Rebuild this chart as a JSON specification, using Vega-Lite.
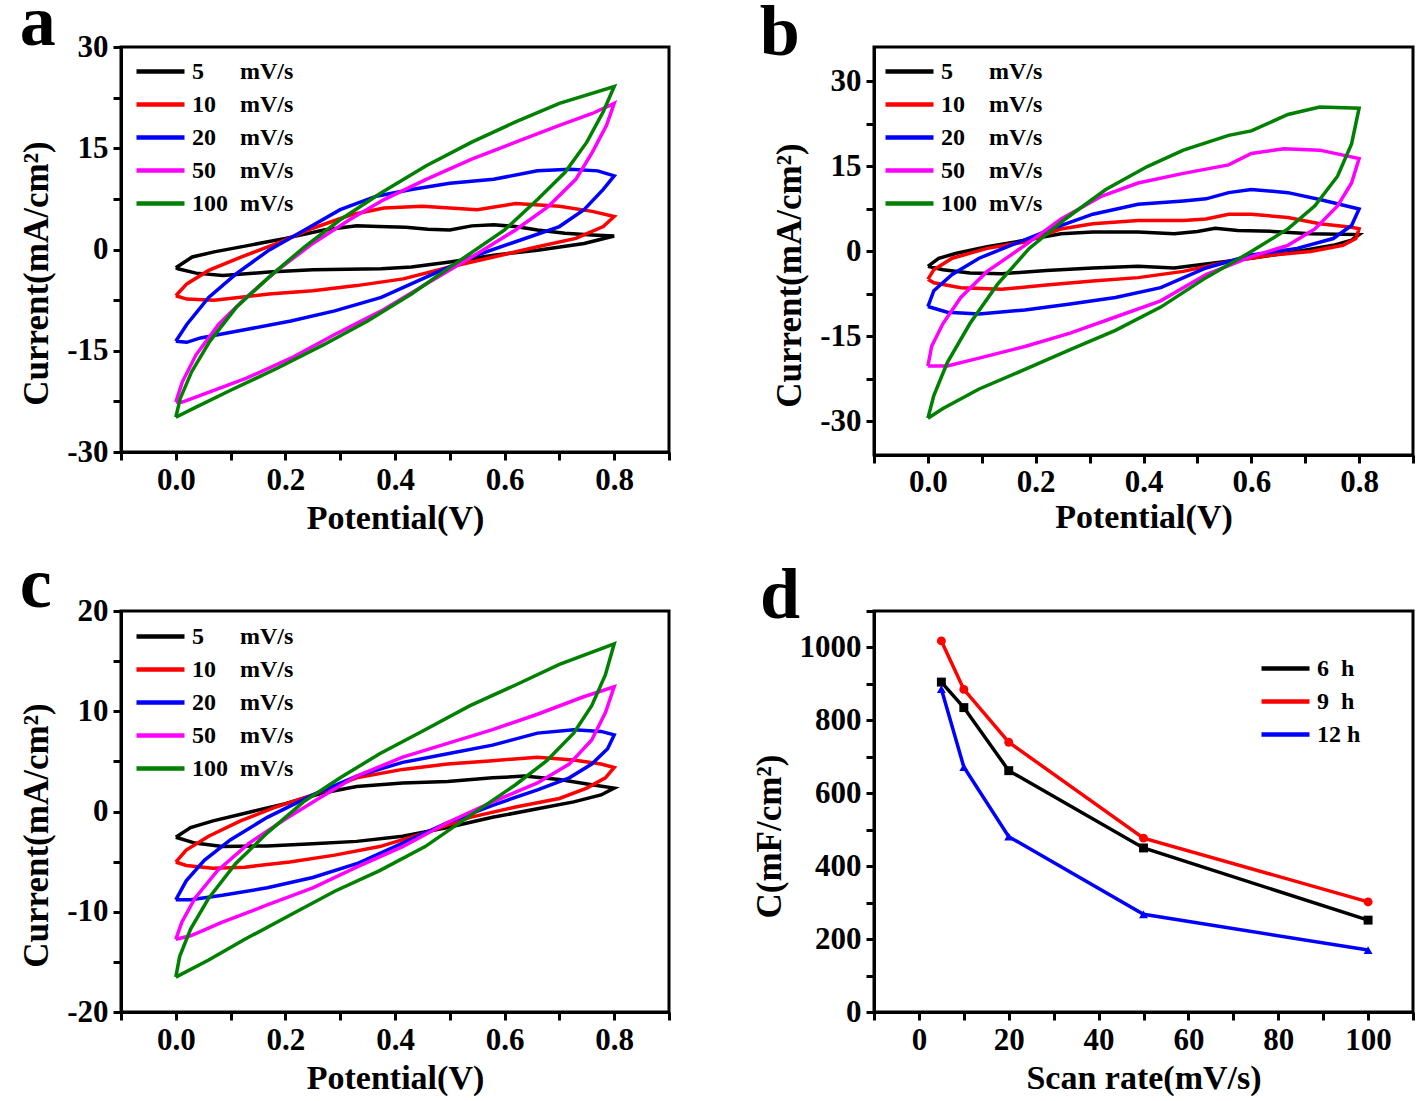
{
 "$schema": "https://vega.github.io/schema/vega-lite/v6.json",
 "padding": {"left": 18, "top": -15, "right": 0, "bottom": 0},
 "background": "white",
 "columns": 2,
 "spacing": {"row": 10, "column": 78},
 "resolve": {"scale": {"color": "independent", "shape": "independent", "fill": "independent"}, "legend": {"color": "independent", "shape": "independent", "fill": "independent"}},
 "datasets": {
  "cv": [
   {"p":"a","r":5,"o":0,"v":0,"i":-2.7},{"p":"a","r":5,"o":1,"v":0.03,"i":-1.1},{"p":"a","r":5,"o":2,"v":0.07,"i":-0.35},{"p":"a","r":5,"o":3,"v":0.136,"i":0.65},{"p":"a","r":5,"o":4,"v":0.2,"i":1.65},{"p":"a","r":5,"o":5,"v":0.27,"i":2.9},{"p":"a","r":5,"o":6,"v":0.33,"i":3.5},{"p":"a","r":5,"o":7,"v":0.37,"i":3.4},{"p":"a","r":5,"o":8,"v":0.42,"i":3.3},{"p":"a","r":5,"o":9,"v":0.46,"i":3.0},{"p":"a","r":5,"o":10,"v":0.5,"i":2.9},{"p":"a","r":5,"o":11,"v":0.54,"i":3.5},{"p":"a","r":5,"o":12,"v":0.58,"i":3.65},{"p":"a","r":5,"o":13,"v":0.62,"i":3.4},{"p":"a","r":5,"o":14,"v":0.66,"i":2.9},{"p":"a","r":5,"o":15,"v":0.71,"i":2.4},{"p":"a","r":5,"o":16,"v":0.76,"i":2.15},{"p":"a","r":5,"o":17,"v":0.8,"i":2.0},{"p":"a","r":5,"o":18,"v":0.745,"i":0.9},{"p":"a","r":5,"o":19,"v":0.66,"i":-0.1},{"p":"a","r":5,"o":20,"v":0.58,"i":-0.85},{"p":"a","r":5,"o":21,"v":0.5,"i":-1.85},{"p":"a","r":5,"o":22,"v":0.43,"i":-2.6},{"p":"a","r":5,"o":23,"v":0.375,"i":-2.85},{"p":"a","r":5,"o":24,"v":0.25,"i":-3.0},{"p":"a","r":5,"o":25,"v":0.17,"i":-3.35},{"p":"a","r":5,"o":26,"v":0.086,"i":-3.85},{"p":"a","r":5,"o":27,"v":0.037,"i":-3.5},{"p":"a","r":5,"o":28,"v":0.004,"i":-2.85},{"p":"a","r":5,"o":29,"v":0,"i":-2.7},
   {"p":"a","r":10,"o":0,"v":0,"i":-6.85},{"p":"a","r":10,"o":1,"v":0.02,"i":-5.1},{"p":"a","r":10,"o":2,"v":0.06,"i":-3.1},{"p":"a","r":10,"o":3,"v":0.12,"i":-1.1},{"p":"a","r":10,"o":4,"v":0.185,"i":0.9},{"p":"a","r":10,"o":5,"v":0.25,"i":3.15},{"p":"a","r":10,"o":6,"v":0.32,"i":5.15},{"p":"a","r":10,"o":7,"v":0.38,"i":6.15},{"p":"a","r":10,"o":8,"v":0.45,"i":6.4},{"p":"a","r":10,"o":9,"v":0.5,"i":6.15},{"p":"a","r":10,"o":10,"v":0.55,"i":5.9},{"p":"a","r":10,"o":11,"v":0.62,"i":6.8},{"p":"a","r":10,"o":12,"v":0.7,"i":6.4},{"p":"a","r":10,"o":13,"v":0.76,"i":5.65},{"p":"a","r":10,"o":14,"v":0.8,"i":4.9},{"p":"a","r":10,"o":15,"v":0.78,"i":3.4},{"p":"a","r":10,"o":16,"v":0.73,"i":1.65},{"p":"a","r":10,"o":17,"v":0.66,"i":0.4},{"p":"a","r":10,"o":18,"v":0.58,"i":-1.1},{"p":"a","r":10,"o":19,"v":0.5,"i":-2.6},{"p":"a","r":10,"o":20,"v":0.415,"i":-4.35},{"p":"a","r":10,"o":21,"v":0.33,"i":-5.35},{"p":"a","r":10,"o":22,"v":0.25,"i":-6.1},{"p":"a","r":10,"o":23,"v":0.17,"i":-6.6},{"p":"a","r":10,"o":24,"v":0.07,"i":-7.5},{"p":"a","r":10,"o":25,"v":0.02,"i":-7.35},{"p":"a","r":10,"o":26,"v":0,"i":-6.85},
   {"p":"a","r":20,"o":0,"v":0,"i":-13.6},{"p":"a","r":20,"o":1,"v":0.02,"i":-11.1},{"p":"a","r":20,"o":2,"v":0.06,"i":-7.1},{"p":"a","r":20,"o":3,"v":0.11,"i":-3.6},{"p":"a","r":20,"o":4,"v":0.17,"i":-0.1},{"p":"a","r":20,"o":5,"v":0.235,"i":2.9},{"p":"a","r":20,"o":6,"v":0.3,"i":5.9},{"p":"a","r":20,"o":7,"v":0.366,"i":7.9},{"p":"a","r":20,"o":8,"v":0.43,"i":8.9},{"p":"a","r":20,"o":9,"v":0.5,"i":9.8},{"p":"a","r":20,"o":10,"v":0.58,"i":10.4},{"p":"a","r":20,"o":11,"v":0.66,"i":11.65},{"p":"a","r":20,"o":12,"v":0.72,"i":11.9},{"p":"a","r":20,"o":13,"v":0.77,"i":11.65},{"p":"a","r":20,"o":14,"v":0.8,"i":10.9},{"p":"a","r":20,"o":15,"v":0.78,"i":8.9},{"p":"a","r":20,"o":16,"v":0.745,"i":5.9},{"p":"a","r":20,"o":17,"v":0.7,"i":3.4},{"p":"a","r":20,"o":18,"v":0.62,"i":1.15},{"p":"a","r":20,"o":19,"v":0.54,"i":-1.1},{"p":"a","r":20,"o":20,"v":0.457,"i":-4.1},{"p":"a","r":20,"o":21,"v":0.375,"i":-7.1},{"p":"a","r":20,"o":22,"v":0.29,"i":-9.1},{"p":"a","r":20,"o":23,"v":0.21,"i":-10.6},{"p":"a","r":20,"o":24,"v":0.128,"i":-11.85},{"p":"a","r":20,"o":25,"v":0.045,"i":-13.1},{"p":"a","r":20,"o":26,"v":0.02,"i":-13.75},{"p":"a","r":20,"o":27,"v":0,"i":-13.6},
   {"p":"a","r":50,"o":0,"v":0,"i":-22.6},{"p":"a","r":50,"o":1,"v":0.012,"i":-19.6},{"p":"a","r":50,"o":2,"v":0.037,"i":-15.6},{"p":"a","r":50,"o":3,"v":0.078,"i":-11.1},{"p":"a","r":50,"o":4,"v":0.128,"i":-7.1},{"p":"a","r":50,"o":5,"v":0.185,"i":-3.1},{"p":"a","r":50,"o":6,"v":0.25,"i":0.9},{"p":"a","r":50,"o":7,"v":0.317,"i":4.4},{"p":"a","r":50,"o":8,"v":0.38,"i":7.4},{"p":"a","r":50,"o":9,"v":0.457,"i":10.4},{"p":"a","r":50,"o":10,"v":0.54,"i":13.4},{"p":"a","r":50,"o":11,"v":0.62,"i":15.9},{"p":"a","r":50,"o":12,"v":0.7,"i":18.4},{"p":"a","r":50,"o":13,"v":0.76,"i":20.15},{"p":"a","r":50,"o":14,"v":0.8,"i":21.65},{"p":"a","r":50,"o":15,"v":0.786,"i":18.4},{"p":"a","r":50,"o":16,"v":0.76,"i":14.4},{"p":"a","r":50,"o":17,"v":0.73,"i":10.4},{"p":"a","r":50,"o":18,"v":0.68,"i":6.4},{"p":"a","r":50,"o":19,"v":0.62,"i":2.9},{"p":"a","r":50,"o":20,"v":0.54,"i":-1.1},{"p":"a","r":50,"o":21,"v":0.457,"i":-5.1},{"p":"a","r":50,"o":22,"v":0.375,"i":-9.1},{"p":"a","r":50,"o":23,"v":0.29,"i":-12.6},{"p":"a","r":50,"o":24,"v":0.21,"i":-16.1},{"p":"a","r":50,"o":25,"v":0.128,"i":-19.1},{"p":"a","r":50,"o":26,"v":0.045,"i":-21.6},{"p":"a","r":50,"o":27,"v":0.012,"i":-22.6},{"p":"a","r":50,"o":28,"v":0,"i":-22.6},
   {"p":"a","r":100,"o":0,"v":0,"i":-24.85},{"p":"a","r":100,"o":1,"v":0.008,"i":-22.1},{"p":"a","r":100,"o":2,"v":0.029,"i":-18.1},{"p":"a","r":100,"o":3,"v":0.062,"i":-13.6},{"p":"a","r":100,"o":4,"v":0.11,"i":-8.6},{"p":"a","r":100,"o":5,"v":0.17,"i":-4.1},{"p":"a","r":100,"o":6,"v":0.235,"i":0.4},{"p":"a","r":100,"o":7,"v":0.3,"i":4.4},{"p":"a","r":100,"o":8,"v":0.375,"i":8.4},{"p":"a","r":100,"o":9,"v":0.457,"i":12.4},{"p":"a","r":100,"o":10,"v":0.54,"i":15.9},{"p":"a","r":100,"o":11,"v":0.62,"i":18.9},{"p":"a","r":100,"o":12,"v":0.7,"i":21.65},{"p":"a","r":100,"o":13,"v":0.8,"i":24.15},{"p":"a","r":100,"o":14,"v":0.78,"i":20.4},{"p":"a","r":100,"o":15,"v":0.75,"i":15.9},{"p":"a","r":100,"o":16,"v":0.71,"i":11.4},{"p":"a","r":100,"o":17,"v":0.66,"i":7.4},{"p":"a","r":100,"o":18,"v":0.6,"i":2.9},{"p":"a","r":100,"o":19,"v":0.51,"i":-2.1},{"p":"a","r":100,"o":20,"v":0.43,"i":-6.6},{"p":"a","r":100,"o":21,"v":0.35,"i":-10.6},{"p":"a","r":100,"o":22,"v":0.27,"i":-14.1},{"p":"a","r":100,"o":23,"v":0.185,"i":-17.6},{"p":"a","r":100,"o":24,"v":0.1,"i":-20.85},{"p":"a","r":100,"o":25,"v":0.037,"i":-23.35},{"p":"a","r":100,"o":26,"v":0,"i":-24.85},
   {"p":"b","r":5,"o":0,"v":0,"i":-2.7},{"p":"b","r":5,"o":1,"v":0.02,"i":-1.3},{"p":"b","r":5,"o":2,"v":0.053,"i":-0.4},{"p":"b","r":5,"o":3,"v":0.11,"i":0.75},{"p":"b","r":5,"o":4,"v":0.18,"i":1.9},{"p":"b","r":5,"o":5,"v":0.247,"i":3.05},{"p":"b","r":5,"o":6,"v":0.306,"i":3.35},{"p":"b","r":5,"o":7,"v":0.39,"i":3.35},{"p":"b","r":5,"o":8,"v":0.457,"i":3.05},{"p":"b","r":5,"o":9,"v":0.5,"i":3.46},{"p":"b","r":5,"o":10,"v":0.533,"i":4.0},{"p":"b","r":5,"o":11,"v":0.575,"i":3.6},{"p":"b","r":5,"o":12,"v":0.64,"i":3.46},{"p":"b","r":5,"o":13,"v":0.71,"i":3.05},{"p":"b","r":5,"o":14,"v":0.8,"i":2.9},{"p":"b","r":5,"o":15,"v":0.786,"i":1.9},{"p":"b","r":5,"o":16,"v":0.752,"i":1.0},{"p":"b","r":5,"o":17,"v":0.685,"i":-0.1},{"p":"b","r":5,"o":18,"v":0.6,"i":-1.27},{"p":"b","r":5,"o":19,"v":0.516,"i":-2.3},{"p":"b","r":5,"o":20,"v":0.457,"i":-3.0},{"p":"b","r":5,"o":21,"v":0.39,"i":-2.7},{"p":"b","r":5,"o":22,"v":0.306,"i":-3.0},{"p":"b","r":5,"o":23,"v":0.22,"i":-3.46},{"p":"b","r":5,"o":24,"v":0.137,"i":-4.0},{"p":"b","r":5,"o":25,"v":0.078,"i":-3.87},{"p":"b","r":5,"o":26,"v":0.028,"i":-3.3},{"p":"b","r":5,"o":27,"v":0,"i":-2.7},
   {"p":"b","r":10,"o":0,"v":0,"i":-5.0},{"p":"b","r":10,"o":1,"v":0.011,"i":-3.3},{"p":"b","r":10,"o":2,"v":0.045,"i":-1.27},{"p":"b","r":10,"o":3,"v":0.11,"i":0.46},{"p":"b","r":10,"o":4,"v":0.18,"i":1.6},{"p":"b","r":10,"o":5,"v":0.247,"i":3.9},{"p":"b","r":10,"o":6,"v":0.306,"i":4.8},{"p":"b","r":10,"o":7,"v":0.39,"i":5.37},{"p":"b","r":10,"o":8,"v":0.474,"i":5.37},{"p":"b","r":10,"o":9,"v":0.516,"i":5.65},{"p":"b","r":10,"o":10,"v":0.558,"i":6.5},{"p":"b","r":10,"o":11,"v":0.6,"i":6.5},{"p":"b","r":10,"o":12,"v":0.668,"i":5.9},{"p":"b","r":10,"o":13,"v":0.727,"i":4.8},{"p":"b","r":10,"o":14,"v":0.786,"i":4.2},{"p":"b","r":10,"o":15,"v":0.8,"i":3.9},{"p":"b","r":10,"o":16,"v":0.794,"i":2.2},{"p":"b","r":10,"o":17,"v":0.77,"i":1.0},{"p":"b","r":10,"o":18,"v":0.71,"i":-0.1},{"p":"b","r":10,"o":19,"v":0.64,"i":-0.7},{"p":"b","r":10,"o":20,"v":0.558,"i":-1.85},{"p":"b","r":10,"o":21,"v":0.474,"i":-3.6},{"p":"b","r":10,"o":22,"v":0.39,"i":-4.7},{"p":"b","r":10,"o":23,"v":0.306,"i":-5.3},{"p":"b","r":10,"o":24,"v":0.22,"i":-6.0},{"p":"b","r":10,"o":25,"v":0.137,"i":-6.75},{"p":"b","r":10,"o":26,"v":0.061,"i":-6.5},{"p":"b","r":10,"o":27,"v":0.011,"i":-5.6},{"p":"b","r":10,"o":28,"v":0,"i":-5.0},
   {"p":"b","r":20,"o":0,"v":0,"i":-9.8},{"p":"b","r":20,"o":1,"v":0.011,"i":-7.0},{"p":"b","r":20,"o":2,"v":0.045,"i":-4.15},{"p":"b","r":20,"o":3,"v":0.095,"i":-1.27},{"p":"b","r":20,"o":4,"v":0.163,"i":1.33},{"p":"b","r":20,"o":5,"v":0.23,"i":3.9},{"p":"b","r":20,"o":6,"v":0.306,"i":6.5},{"p":"b","r":20,"o":7,"v":0.39,"i":8.25},{"p":"b","r":20,"o":8,"v":0.474,"i":8.83},{"p":"b","r":20,"o":9,"v":0.516,"i":9.2},{"p":"b","r":20,"o":10,"v":0.558,"i":10.3},{"p":"b","r":20,"o":11,"v":0.6,"i":10.85},{"p":"b","r":20,"o":12,"v":0.668,"i":10.3},{"p":"b","r":20,"o":13,"v":0.727,"i":9.1},{"p":"b","r":20,"o":14,"v":0.8,"i":7.4},{"p":"b","r":20,"o":15,"v":0.786,"i":4.5},{"p":"b","r":20,"o":16,"v":0.752,"i":2.2},{"p":"b","r":20,"o":17,"v":0.685,"i":0.46},{"p":"b","r":20,"o":18,"v":0.6,"i":-0.7},{"p":"b","r":20,"o":19,"v":0.516,"i":-3.0},{"p":"b","r":20,"o":20,"v":0.432,"i":-6.46},{"p":"b","r":20,"o":21,"v":0.348,"i":-8.2},{"p":"b","r":20,"o":22,"v":0.264,"i":-9.35},{"p":"b","r":20,"o":23,"v":0.18,"i":-10.4},{"p":"b","r":20,"o":24,"v":0.095,"i":-11.1},{"p":"b","r":20,"o":25,"v":0.036,"i":-10.8},{"p":"b","r":20,"o":26,"v":0,"i":-9.8},
   {"p":"b","r":50,"o":0,"v":0,"i":-20.3},{"p":"b","r":50,"o":1,"v":0.007,"i":-16.8},{"p":"b","r":50,"o":2,"v":0.028,"i":-12.8},{"p":"b","r":50,"o":3,"v":0.061,"i":-8.2},{"p":"b","r":50,"o":4,"v":0.11,"i":-3.6},{"p":"b","r":50,"o":5,"v":0.18,"i":1.0},{"p":"b","r":50,"o":6,"v":0.247,"i":5.65},{"p":"b","r":50,"o":7,"v":0.323,"i":9.7},{"p":"b","r":50,"o":8,"v":0.39,"i":12.0},{"p":"b","r":50,"o":9,"v":0.474,"i":13.7},{"p":"b","r":50,"o":10,"v":0.558,"i":15.2},{"p":"b","r":50,"o":11,"v":0.6,"i":17.2},{"p":"b","r":50,"o":12,"v":0.66,"i":18.06},{"p":"b","r":50,"o":13,"v":0.727,"i":17.8},{"p":"b","r":50,"o":14,"v":0.8,"i":16.3},{"p":"b","r":50,"o":15,"v":0.786,"i":12.0},{"p":"b","r":50,"o":16,"v":0.76,"i":7.96},{"p":"b","r":50,"o":17,"v":0.718,"i":3.9},{"p":"b","r":50,"o":18,"v":0.668,"i":1.0},{"p":"b","r":50,"o":19,"v":0.6,"i":-1.0},{"p":"b","r":50,"o":20,"v":0.516,"i":-4.15},{"p":"b","r":50,"o":21,"v":0.432,"i":-8.8},{"p":"b","r":50,"o":22,"v":0.348,"i":-11.65},{"p":"b","r":50,"o":23,"v":0.264,"i":-14.5},{"p":"b","r":50,"o":24,"v":0.18,"i":-16.85},{"p":"b","r":50,"o":25,"v":0.095,"i":-18.9},{"p":"b","r":50,"o":26,"v":0.036,"i":-20.3},{"p":"b","r":50,"o":27,"v":0,"i":-20.3},
   {"p":"b","r":100,"o":0,"v":0,"i":-29.5},{"p":"b","r":100,"o":1,"v":0.011,"i":-25.5},{"p":"b","r":100,"o":2,"v":0.036,"i":-19.7},{"p":"b","r":100,"o":3,"v":0.078,"i":-12.8},{"p":"b","r":100,"o":4,"v":0.129,"i":-5.9},{"p":"b","r":100,"o":5,"v":0.188,"i":0.46},{"p":"b","r":100,"o":6,"v":0.255,"i":5.65},{"p":"b","r":100,"o":7,"v":0.33,"i":10.85},{"p":"b","r":100,"o":8,"v":0.407,"i":14.9},{"p":"b","r":100,"o":9,"v":0.474,"i":17.8},{"p":"b","r":100,"o":10,"v":0.558,"i":20.4},{"p":"b","r":100,"o":11,"v":0.6,"i":21.2},{"p":"b","r":100,"o":12,"v":0.668,"i":24.1},{"p":"b","r":100,"o":13,"v":0.727,"i":25.4},{"p":"b","r":100,"o":14,"v":0.8,"i":25.2},{"p":"b","r":100,"o":15,"v":0.786,"i":18.9},{"p":"b","r":100,"o":16,"v":0.76,"i":13.2},{"p":"b","r":100,"o":17,"v":0.718,"i":7.96},{"p":"b","r":100,"o":18,"v":0.668,"i":3.9},{"p":"b","r":100,"o":19,"v":0.6,"i":-0.1},{"p":"b","r":100,"o":20,"v":0.516,"i":-4.7},{"p":"b","r":100,"o":21,"v":0.432,"i":-9.9},{"p":"b","r":100,"o":22,"v":0.348,"i":-14.0},{"p":"b","r":100,"o":23,"v":0.264,"i":-17.4},{"p":"b","r":100,"o":24,"v":0.18,"i":-20.9},{"p":"b","r":100,"o":25,"v":0.095,"i":-24.35},{"p":"b","r":100,"o":26,"v":0.028,"i":-27.8},{"p":"b","r":100,"o":27,"v":0,"i":-29.5},
   {"p":"c","r":5,"o":0,"v":0,"i":-2.57},{"p":"c","r":5,"o":1,"v":0.027,"i":-1.6},{"p":"c","r":5,"o":2,"v":0.068,"i":-0.93},{"p":"c","r":5,"o":3,"v":0.134,"i":-0.07},{"p":"c","r":5,"o":4,"v":0.2,"i":0.79},{"p":"c","r":5,"o":5,"v":0.266,"i":1.82},{"p":"c","r":5,"o":6,"v":0.33,"i":2.5},{"p":"c","r":5,"o":7,"v":0.414,"i":2.85},{"p":"c","r":5,"o":8,"v":0.496,"i":3.0},{"p":"c","r":5,"o":9,"v":0.578,"i":3.36},{"p":"c","r":5,"o":10,"v":0.636,"i":3.53},{"p":"c","r":5,"o":11,"v":0.7,"i":3.19},{"p":"c","r":5,"o":12,"v":0.759,"i":2.67},{"p":"c","r":5,"o":13,"v":0.8,"i":2.33},{"p":"c","r":5,"o":14,"v":0.776,"i":1.65},{"p":"c","r":5,"o":15,"v":0.726,"i":0.96},{"p":"c","r":5,"o":16,"v":0.66,"i":0.27},{"p":"c","r":5,"o":17,"v":0.578,"i":-0.58},{"p":"c","r":5,"o":18,"v":0.496,"i":-1.6},{"p":"c","r":5,"o":19,"v":0.414,"i":-2.47},{"p":"c","r":5,"o":20,"v":0.33,"i":-2.98},{"p":"c","r":5,"o":21,"v":0.25,"i":-3.22},{"p":"c","r":5,"o":22,"v":0.167,"i":-3.43},{"p":"c","r":5,"o":23,"v":0.085,"i":-3.5},{"p":"c","r":5,"o":24,"v":0.035,"i":-3.15},{"p":"c","r":5,"o":25,"v":0,"i":-2.57},
   {"p":"c","r":10,"o":0,"v":0,"i":-5.04},{"p":"c","r":10,"o":1,"v":0.019,"i":-3.84},{"p":"c","r":10,"o":2,"v":0.06,"i":-2.47},{"p":"c","r":10,"o":3,"v":0.118,"i":-0.93},{"p":"c","r":10,"o":4,"v":0.183,"i":0.45},{"p":"c","r":10,"o":5,"v":0.25,"i":1.65},{"p":"c","r":10,"o":6,"v":0.33,"i":3.36},{"p":"c","r":10,"o":7,"v":0.414,"i":4.2},{"p":"c","r":10,"o":8,"v":0.496,"i":4.73},{"p":"c","r":10,"o":9,"v":0.578,"i":5.07},{"p":"c","r":10,"o":10,"v":0.66,"i":5.42},{"p":"c","r":10,"o":11,"v":0.726,"i":5.14},{"p":"c","r":10,"o":12,"v":0.776,"i":4.73},{"p":"c","r":10,"o":13,"v":0.8,"i":4.39},{"p":"c","r":10,"o":14,"v":0.784,"i":3.36},{"p":"c","r":10,"o":15,"v":0.75,"i":2.33},{"p":"c","r":10,"o":16,"v":0.7,"i":1.3},{"p":"c","r":10,"o":17,"v":0.62,"i":0.45},{"p":"c","r":10,"o":18,"v":0.537,"i":-0.58},{"p":"c","r":10,"o":19,"v":0.455,"i":-2.13},{"p":"c","r":10,"o":20,"v":0.372,"i":-3.5},{"p":"c","r":10,"o":21,"v":0.29,"i":-4.35},{"p":"c","r":10,"o":22,"v":0.208,"i":-5.04},{"p":"c","r":10,"o":23,"v":0.126,"i":-5.55},{"p":"c","r":10,"o":24,"v":0.068,"i":-5.66},{"p":"c","r":10,"o":25,"v":0.019,"i":-5.38},{"p":"c","r":10,"o":26,"v":0,"i":-5.04},
   {"p":"c","r":20,"o":0,"v":0,"i":-8.81},{"p":"c","r":20,"o":1,"v":0.019,"i":-6.92},{"p":"c","r":20,"o":2,"v":0.052,"i":-4.87},{"p":"c","r":20,"o":3,"v":0.1,"i":-2.81},{"p":"c","r":20,"o":4,"v":0.167,"i":-0.58},{"p":"c","r":20,"o":5,"v":0.25,"i":1.65},{"p":"c","r":20,"o":6,"v":0.33,"i":3.53},{"p":"c","r":20,"o":7,"v":0.414,"i":4.9},{"p":"c","r":20,"o":8,"v":0.496,"i":5.76},{"p":"c","r":20,"o":9,"v":0.578,"i":6.62},{"p":"c","r":20,"o":10,"v":0.66,"i":7.82},{"p":"c","r":20,"o":11,"v":0.726,"i":8.16},{"p":"c","r":20,"o":12,"v":0.776,"i":7.99},{"p":"c","r":20,"o":13,"v":0.8,"i":7.64},{"p":"c","r":20,"o":14,"v":0.788,"i":6.27},{"p":"c","r":20,"o":15,"v":0.759,"i":4.73},{"p":"c","r":20,"o":16,"v":0.718,"i":3.36},{"p":"c","r":20,"o":17,"v":0.66,"i":2.16},{"p":"c","r":20,"o":18,"v":0.578,"i":0.62},{"p":"c","r":20,"o":19,"v":0.496,"i":-1.1},{"p":"c","r":20,"o":20,"v":0.414,"i":-3.15},{"p":"c","r":20,"o":21,"v":0.33,"i":-5.21},{"p":"c","r":20,"o":22,"v":0.25,"i":-6.58},{"p":"c","r":20,"o":23,"v":0.167,"i":-7.61},{"p":"c","r":20,"o":24,"v":0.085,"i":-8.36},{"p":"c","r":20,"o":25,"v":0.027,"i":-8.81},{"p":"c","r":20,"o":26,"v":0,"i":-8.81},
   {"p":"c","r":50,"o":0,"v":0,"i":-12.75},{"p":"c","r":50,"o":1,"v":0.011,"i":-11.04},{"p":"c","r":50,"o":2,"v":0.035,"i":-8.64},{"p":"c","r":50,"o":3,"v":0.076,"i":-5.9},{"p":"c","r":50,"o":4,"v":0.134,"i":-3.15},{"p":"c","r":50,"o":5,"v":0.2,"i":-0.75},{"p":"c","r":50,"o":6,"v":0.266,"i":1.47},{"p":"c","r":50,"o":7,"v":0.33,"i":3.53},{"p":"c","r":50,"o":8,"v":0.414,"i":5.42},{"p":"c","r":50,"o":9,"v":0.496,"i":6.79},{"p":"c","r":50,"o":10,"v":0.578,"i":8.16},{"p":"c","r":50,"o":11,"v":0.66,"i":9.7},{"p":"c","r":50,"o":12,"v":0.743,"i":11.42},{"p":"c","r":50,"o":13,"v":0.8,"i":12.44},{"p":"c","r":50,"o":14,"v":0.784,"i":9.87},{"p":"c","r":50,"o":15,"v":0.759,"i":7.13},{"p":"c","r":50,"o":16,"v":0.718,"i":4.73},{"p":"c","r":50,"o":17,"v":0.66,"i":2.85},{"p":"c","r":50,"o":18,"v":0.578,"i":0.96},{"p":"c","r":50,"o":19,"v":0.496,"i":-1.1},{"p":"c","r":50,"o":20,"v":0.414,"i":-3.5},{"p":"c","r":50,"o":21,"v":0.33,"i":-5.55},{"p":"c","r":50,"o":22,"v":0.25,"i":-7.61},{"p":"c","r":50,"o":23,"v":0.167,"i":-9.32},{"p":"c","r":50,"o":24,"v":0.085,"i":-11.04},{"p":"c","r":50,"o":25,"v":0.027,"i":-12.4},{"p":"c","r":50,"o":26,"v":0,"i":-12.75},
   {"p":"c","r":100,"o":0,"v":0,"i":-16.52},{"p":"c","r":100,"o":1,"v":0.007,"i":-14.47},{"p":"c","r":100,"o":2,"v":0.027,"i":-11.72},{"p":"c","r":100,"o":3,"v":0.06,"i":-8.64},{"p":"c","r":100,"o":4,"v":0.109,"i":-5.21},{"p":"c","r":100,"o":5,"v":0.167,"i":-2.13},{"p":"c","r":100,"o":6,"v":0.233,"i":0.96},{"p":"c","r":100,"o":7,"v":0.3,"i":3.36},{"p":"c","r":100,"o":8,"v":0.372,"i":5.76},{"p":"c","r":100,"o":9,"v":0.455,"i":8.16},{"p":"c","r":100,"o":10,"v":0.537,"i":10.56},{"p":"c","r":100,"o":11,"v":0.62,"i":12.62},{"p":"c","r":100,"o":12,"v":0.7,"i":14.67},{"p":"c","r":100,"o":13,"v":0.8,"i":16.73},{"p":"c","r":100,"o":14,"v":0.784,"i":13.64},{"p":"c","r":100,"o":15,"v":0.759,"i":10.56},{"p":"c","r":100,"o":16,"v":0.726,"i":7.82},{"p":"c","r":100,"o":17,"v":0.677,"i":5.07},{"p":"c","r":100,"o":18,"v":0.62,"i":2.67},{"p":"c","r":100,"o":19,"v":0.537,"i":-0.41},{"p":"c","r":100,"o":20,"v":0.455,"i":-3.5},{"p":"c","r":100,"o":21,"v":0.372,"i":-5.9},{"p":"c","r":100,"o":22,"v":0.29,"i":-7.95},{"p":"c","r":100,"o":23,"v":0.208,"i":-10.35},{"p":"c","r":100,"o":24,"v":0.126,"i":-12.75},{"p":"c","r":100,"o":25,"v":0.06,"i":-14.81},{"p":"c","r":100,"o":26,"v":0,"i":-16.52}
  ],
  "cap": [
   {"g":"6 h","h":6,"s":5,"c":905},{"g":"6 h","h":6,"s":10,"c":835},{"g":"6 h","h":6,"s":20,"c":662},{"g":"6 h","h":6,"s":50,"c":450},{"g":"6 h","h":6,"s":100,"c":252},
   {"g":"9 h","h":9,"s":5,"c":1018},{"g":"9 h","h":9,"s":10,"c":885},{"g":"9 h","h":9,"s":20,"c":740},{"g":"9 h","h":9,"s":50,"c":477},{"g":"9 h","h":9,"s":100,"c":302},
   {"g":"12 h","h":12,"s":5,"c":886},{"g":"12 h","h":12,"s":10,"c":672},{"g":"12 h","h":12,"s":20,"c":481},{"g":"12 h","h":12,"s":50,"c":268},{"g":"12 h","h":12,"s":100,"c":170}
  ]
 },
 "concat": [
  {
   "title": {"text": "a", "offset": -29},
   "width": 548, "height": 405,
   "data": {"name": "cv"},
   "transform": [{"filter": "datum.p == 'a'"}],
   "mark": {"type": "line", "strokeWidth": 3.5},
   "encoding": {
    "x": {"field": "v", "type": "quantitative", "scale": {"domain": [-0.1, 0.9], "nice": false, "zero": false},
          "axis": {"title": "Potential(V)", "values": [-0.1,0,0.1,0.2,0.3,0.4,0.5,0.6,0.7,0.8,0.9], "labelExpr": "(round(datum.value*10) % 2 == 0 && datum.value > -0.05 && datum.value < 0.85) ? format(datum.value, '.1f') : ''"}},
    "y": {"field": "i", "type": "quantitative", "scale": {"domain": [-30, 30], "nice": false},
          "axis": {"title": "Current(mA/cm²)", "titleY": 226, "values": [-30,-22.5,-15,-7.5,0,7.5,15,22.5,30], "labelExpr": "datum.value % 15 == 0 ? '' + datum.value : ''"}},
    "color": {"field": "r", "type": "nominal", "scale": {"domain": [5,10,20,50,100], "range": ["#000000","#ff0000","#0000ff","#ff00ff","#008000"]},
              "legend": {"legendX": 22, "legendY": 7, "labelExpr": "datum.value == 5 ? '5\u00a0\u00a0\u00a0\u00a0\u00a0\u00a0mV/s' : datum.value == 100 ? '100\u00a0\u00a0mV/s' : datum.label + '\u00a0\u00a0\u00a0\u00a0mV/s'"}},
    "order": {"field": "o", "type": "quantitative"}
   }
  },
  {
   "title": {"text": "b", "offset": -23, "dx": -13},
   "width": 539, "height": 408,
   "data": {"name": "cv"},
   "transform": [{"filter": "datum.p == 'b'"}],
   "mark": {"type": "line", "strokeWidth": 3.5},
   "encoding": {
    "x": {"field": "v", "type": "quantitative", "scale": {"domain": [-0.1, 0.9], "nice": false, "zero": false},
          "axis": {"title": "Potential(V)", "labelPadding": 4, "titlePadding": 3, "values": [-0.1,0,0.1,0.2,0.3,0.4,0.5,0.6,0.7,0.8,0.9], "labelExpr": "(round(datum.value*10) % 2 == 0 && datum.value > -0.05 && datum.value < 0.85) ? format(datum.value, '.1f') : ''"}},
    "y": {"field": "i", "type": "quantitative", "scale": {"domain": [-36, 36], "nice": false},
          "axis": {"title": "Current(mA/cm²)", "titleY": 228, "values": [-30,-22.5,-15,-7.5,0,7.5,15,22.5,30], "labelExpr": "datum.value % 15 == 0 ? '' + datum.value : ''"}},
    "color": {"field": "r", "type": "nominal", "scale": {"domain": [5,10,20,50,100], "range": ["#000000","#ff0000","#0000ff","#ff00ff","#008000"]},
              "legend": {"legendX": 18, "legendY": 7, "labelExpr": "datum.value == 5 ? '5\u00a0\u00a0\u00a0\u00a0\u00a0\u00a0mV/s' : datum.value == 100 ? '100\u00a0\u00a0mV/s' : datum.label + '\u00a0\u00a0\u00a0\u00a0mV/s'"}},
    "order": {"field": "o", "type": "quantitative"}
   }
  },
  {
   "title": {"text": "c", "offset": -27},
   "width": 548, "height": 401,
   "data": {"name": "cv"},
   "transform": [{"filter": "datum.p == 'c'"}],
   "mark": {"type": "line", "strokeWidth": 3.5},
   "encoding": {
    "x": {"field": "v", "type": "quantitative", "scale": {"domain": [-0.1, 0.9], "nice": false, "zero": false},
          "axis": {"title": "Potential(V)", "values": [-0.1,0,0.1,0.2,0.3,0.4,0.5,0.6,0.7,0.8,0.9], "labelExpr": "(round(datum.value*10) % 2 == 0 && datum.value > -0.05 && datum.value < 0.85) ? format(datum.value, '.1f') : ''"}},
    "y": {"field": "i", "type": "quantitative", "scale": {"domain": [-20, 20], "nice": false},
          "axis": {"title": "Current(mA/cm²)", "titleY": 224, "values": [-20,-15,-10,-5,0,5,10,15,20], "labelExpr": "datum.value % 10 == 0 ? '' + datum.value : ''"}},
    "color": {"field": "r", "type": "nominal", "scale": {"domain": [5,10,20,50,100], "range": ["#000000","#ff0000","#0000ff","#ff00ff","#008000"]},
              "legend": {"legendX": 22, "legendY": 8, "labelExpr": "datum.value == 5 ? '5\u00a0\u00a0\u00a0\u00a0\u00a0\u00a0mV/s' : datum.value == 100 ? '100\u00a0\u00a0mV/s' : datum.label + '\u00a0\u00a0\u00a0\u00a0mV/s'"}},
    "order": {"field": "o", "type": "quantitative"}
   }
  },
  {
   "title": {"text": "d", "offset": -38, "dx": 8},
   "width": 539, "height": 401,
   "data": {"name": "cap"},
   "encoding": {
    "x": {"field": "s", "type": "quantitative", "scale": {"domain": [-10, 110], "nice": false, "zero": false},
          "axis": {"title": "Scan rate(mV/s)", "values": [-10,0,10,20,30,40,50,60,70,80,90,100,110], "labelExpr": "(datum.value % 20 == 0 && datum.value >= 0 && datum.value <= 100) ? '' + datum.value : ''"}},
    "y": {"field": "c", "type": "quantitative", "scale": {"domain": [0, 1100], "nice": false},
          "axis": {"title": "C(mF/cm²)", "titleY": 225, "values": [0,100,200,300,400,500,600,700,800,900,1000,1100], "labelExpr": "(datum.value % 200 == 0 && datum.value <= 1000) ? '' + datum.value : ''"}}
   },
   "layer": [
    {"mark": {"type": "line", "strokeWidth": 3.5},
     "encoding": {"color": {"field": "g", "type": "nominal", "scale": {"domain": ["6 h","9 h","12 h"], "range": ["#000000","#ff0000","#0000ff"]},
              "legend": {"legendX": 394, "legendY": 40, "labelExpr": "datum.label == '6 h' ? '6\u00a0\u00a0h' : datum.label == '9 h' ? '9\u00a0\u00a0h' : '12 h'"}}}},
    {"mark": {"type": "point", "filled": true, "opacity": 1, "size": 80, "strokeWidth": 0},
     "encoding": {
      "fill": {"field": "h", "type": "nominal", "scale": {"domain": [6,9,12], "range": ["#000000","#ff0000","#0000ff"]}, "legend": null},
      "shape": {"field": "h", "type": "nominal", "scale": {"domain": [6,9,12], "range": ["square","circle","triangle-up"]}, "legend": null}}}
   ]
  }
 ],
 "config": {
  "font": "Liberation Serif",
  "view": {"stroke": "black", "strokeWidth": 3},
  "axis": {"domainColor": "black", "domainWidth": 3, "tickColor": "black", "tickWidth": 3, "tickSize": 8,
           "labelFont": "Liberation Serif", "labelFontSize": 31, "labelFontWeight": "bold", "labelColor": "black", "labelPadding": 5,
           "titleFont": "Liberation Serif", "titleFontSize": 34, "titleFontWeight": "bold", "titleColor": "black",
           "grid": false, "labelOverlap": false},
  "axisX": {"titlePadding": 6, "labelFlush": false},
  "axisY": {"titlePadding": 12, "titleFontSize": 35},
  "title": {"font": "Liberation Serif", "fontSize": 72, "fontWeight": "bold", "color": "black", "anchor": "start", "frame": "bounds"},
  "legend": {"orient": "none", "title": null, "symbolType": "M-1.6,0H1.6", "symbolSize": 900, "symbolStrokeWidth": 4.5,
             "labelFont": "Liberation Serif", "labelFontWeight": "bold", "labelFontSize": 24, "labelColor": "black",
             "labelOffset": 14, "rowPadding": 3, "padding": 0}
 }
}
